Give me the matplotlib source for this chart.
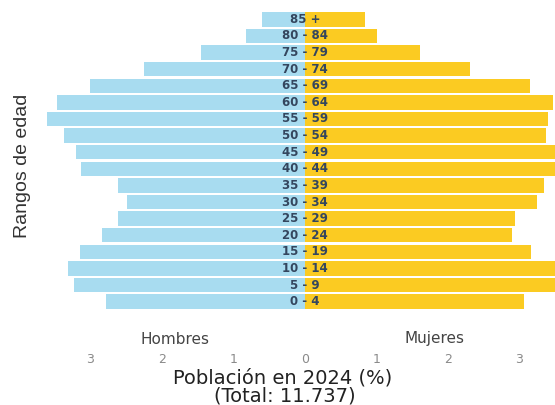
import matplotlib.pyplot as plt
import numpy as np

# rangos de edad, de abajo hacia arriba
rangos = ['0 - 4', '5 - 9', '10 - 14', '15 - 19', '20 - 24', '25 - 29', '30 - 34',
          '35 - 39', '40 - 44', '45 - 49', '50 - 54', '55 - 59', '60 - 64',
          '65 - 69', '70 - 74', '75 - 79', '80 - 84', '85 +']
hombres = [2.78, 3.23, 3.31, 3.15, 2.84, 2.62, 2.49, 2.62, 3.13, 3.20, 3.37, 3.61,
           3.47, 3.01, 2.25, 1.45, 0.83, 0.60]
mujeres = [3.06, 3.55, 3.60, 3.16, 2.90, 2.94, 3.24, 3.34, 3.55, 3.55, 3.37, 3.40,
           3.47, 3.15, 2.31, 1.61, 1.01, 0.84]
ticks = [-3, -2, -1, 0, 1, 2, 3]

color_h = '#a8dcf0'
color_m = '#fbcb22'

fig = plt.figure(figsize=(5.55, 4.05), dpi=100)
ax = fig.add_axes([0, 1 - 310 / 405, 1, 299 / 405])

y = np.arange(len(rangos))
ax.barh(y, -np.array(hombres), height=0.87, color=color_h)
ax.barh(y, mujeres, height=0.87, color=color_m)

for i, r in enumerate(rangos):
    ax.text(0, i, r, ha='center', va='center', fontsize=8.5, fontweight='bold',
            color='#34465e')

ax.set_xlim(-305 / 71.5, 250 / 71.5)
ax.set_ylim(-0.5, len(rangos) - 0.5)
ax.set_xticks(ticks)
ax.set_xticklabels([str(abs(t)) for t in ticks], fontsize=9, color='#8a8a8a')
ax.tick_params(axis='x', length=0, pad=31)
ax.set_yticks([])
for s in ax.spines.values():
    s.set_visible(False)

fig.text(175 / 555, 1 - 339 / 405, 'Hombres', ha='center', va='center',
         fontsize=11, color='#444444')
fig.text(435 / 555, 1 - 339 / 405, 'Mujeres', ha='center', va='center',
         fontsize=11, color='#444444')
fig.text(283 / 555, 1 - 378 / 405, 'Población en 2024 (%)', ha='center', va='center',
         fontsize=14, color='#222222')
fig.text(285 / 555, 1 - 396 / 405, '(Total: 11.737)', ha='center', va='center',
         fontsize=14, color='#222222')
fig.text(23 / 555, 1 - 166 / 405, 'Rangos de edad', rotation=90, ha='center',
         va='center', fontsize=14, color='#333333', family='Liberation Sans')

fig.savefig('out.png', dpi=100)
